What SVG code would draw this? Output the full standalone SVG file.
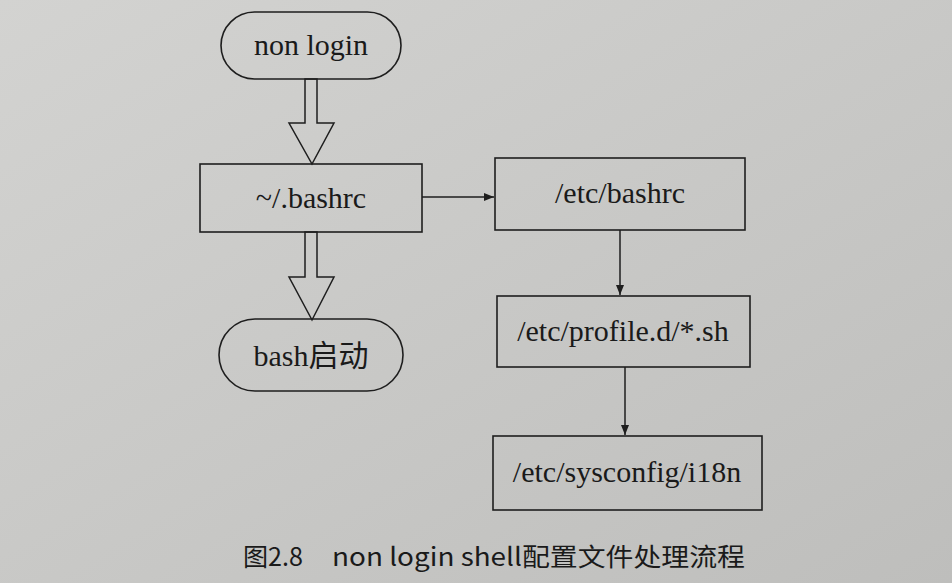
<svg xmlns="http://www.w3.org/2000/svg" width="952" height="583" viewBox="0 0 952 583">
<defs>
<linearGradient id="bg" x1="0" y1="0" x2="1" y2="1">
<stop offset="0" stop-color="#d3d3d1"/>
<stop offset="1" stop-color="#bebebc"/>
</linearGradient>
<marker id="ah" viewBox="0 0 10 8" refX="10" refY="4" markerWidth="10" markerHeight="8" markerUnits="userSpaceOnUse" orient="auto">
<path d="M0,0 L10,4 L0,8 Z" fill="#1e1e1e"/>
</marker>
<style>
.shape{fill:none;stroke:#1e1e1e;stroke-width:1.6}
.lbl{font-family:"Liberation Serif","Noto Sans CJK SC",serif;font-size:30px;fill:#1a1a1a;text-anchor:middle}
.conn{fill:none;stroke:#1e1e1e;stroke-width:1.5}
.cap{font-family:"Noto Sans CJK SC","Noto Sans",sans-serif;font-size:25px;fill:#1a1a1a}
</style>
</defs>
<rect width="952" height="583" fill="url(#bg)"/>
<g id="connectors">
<polygon class="conn" points="305,79 317,79 317,123 334,123 312,164 289,123 305,123"/>
<polygon class="conn" points="305,232 317,232 317,277 334,277 312,320 289,277 305,277"/>
<line class="conn" x1="422" y1="197" x2="494" y2="197" marker-end="url(#ah)"/>
<line class="conn" x1="620" y1="230" x2="620" y2="295" marker-end="url(#ah)"/>
<line class="conn" x1="625" y1="367" x2="625" y2="435" marker-end="url(#ah)"/>
</g>
<g id="node-nonlogin">
<rect class="shape" x="221" y="12" width="180" height="67" rx="33.5" ry="33.5"/>
<text class="lbl" x="311" y="55">non login</text>
</g>
<g id="node-bashrc-home">
<rect class="shape" x="200" y="164" width="222" height="68"/>
<text class="lbl" x="311" y="208">~/.bashrc</text>
</g>
<g id="node-bash-start">
<rect class="shape" x="219" y="319" width="184" height="72" rx="36" ry="36"/>
<text class="lbl" x="311" y="366">bash启动</text>
</g>
<g id="node-etc-bashrc">
<rect class="shape" x="495" y="158" width="250" height="72"/>
<text class="lbl" x="620" y="203">/etc/bashrc</text>
</g>
<g id="node-profile-d">
<rect class="shape" x="497" y="296" width="253" height="71"/>
<text class="lbl" x="623" y="341">/etc/profile.d/*.sh</text>
</g>
<g id="node-i18n">
<rect class="shape" x="493" y="436" width="269" height="74"/>
<text class="lbl" x="627" y="482">/etc/sysconfig/i18n</text>
</g>
<text class="cap" y="566"><tspan x="243" textLength="60" lengthAdjust="spacingAndGlyphs">图2.8</tspan><tspan x="332" textLength="413" lengthAdjust="spacingAndGlyphs">non login shell配置文件处理流程</tspan></text>
</svg>
